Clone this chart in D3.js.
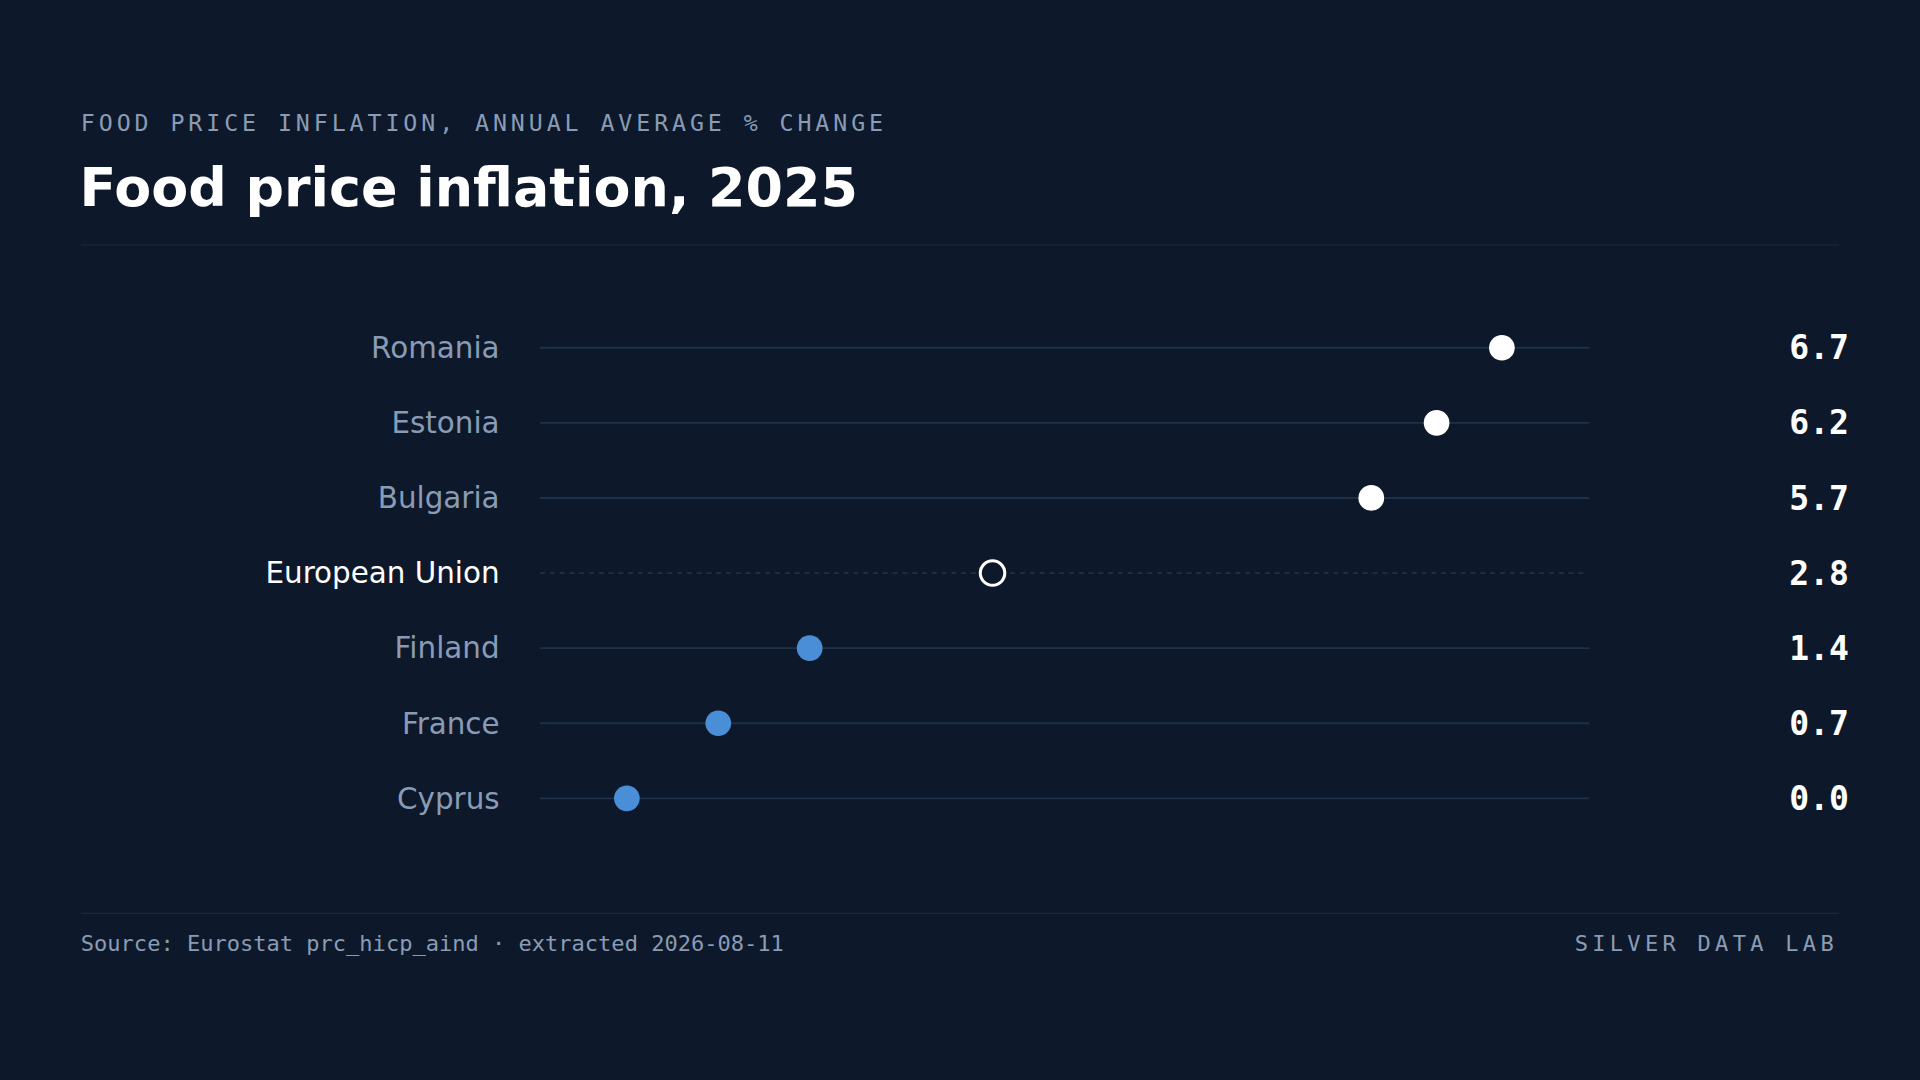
<!DOCTYPE html>
<html>
<head>
<meta charset="utf-8">
<script src="https://cdn.jsdelivr.net/npm/d3@7"></script>
<style>
  html, body { margin: 0; padding: 0; background: #0d192a; }
  svg { display: block; }
</style>
</head>
<body>
<div id="chart"></div>
<script>
const COUNTRIES = ["Romania", "Estonia", "Bulgaria", "European Union", "Finland", "France", "Cyprus"]
const VALUES = [6.7, 6.2, 5.7, 2.8, 1.4, 0.7, 0.0]
const BENCHMARK = "European Union"

const W = 1568, H = 882
const BG = "#0d192a"
const MUTED = "#8a9bb5"
const TRACK = "#1e3149"

const svg = d3.select("#chart")
  .append("svg")
    .attr("width", 1920)
    .attr("height", 1080)
    .attr("viewBox", `0 0 ${W} ${H}`)

svg.append("rect").attr("width", W).attr("height", H).attr("fill", BG)

// ----------------------
// Header
// ----------------------
svg.append("text")
  .attr("x", 66).attr("y", 107)
  .attr("fill", MUTED)
  .style("font", "19px 'DejaVu Sans Mono'")
  .style("letter-spacing", "3.2px")
  .text("FOOD PRICE INFLATION, ANNUAL AVERAGE % CHANGE")

svg.append("text")
  .attr("x", 65).attr("y", 168)
  .attr("fill", "#ffffff")
  .style("font", "bold 44px 'DejaVu Sans'")
  .text("Food price inflation, 2025")

svg.append("line")
  .attr("x1", 66).attr("x2", 1502).attr("y1", 200).attr("y2", 200)
  .attr("stroke", "#18283d")

// ----------------------
// Dot plot
// ----------------------
const x = d3.scaleLinear().domain([-0.665, 7.37]).range([441, 1298])
const y = d3.scalePoint().domain(COUNTRIES).range([284, 652])

const rows = svg.selectAll("g.row")
  .data(COUNTRIES.map((c, i) => ({ country: c, value: VALUES[i] })))
  .enter()
  .append("g")
    .attr("class", "row")
    .attr("transform", d => `translate(0,${y(d.country)})`)

rows.append("line")
  .attr("x1", x.range()[0]).attr("x2", d => d.country === BENCHMARK ? 1294 : x.range()[1])
  .attr("stroke", TRACK)
  .attr("stroke-width", 1.5)
  .attr("stroke-dasharray", d => d.country === BENCHMARK ? "4,4" : null)

rows.append("text")
  .attr("x", 408).attr("dy", "0.35em")
  .attr("text-anchor", "end")
  .attr("fill", d => d.country === BENCHMARK ? "#ffffff" : MUTED)
  .style("font", "24px 'DejaVu Sans'")
  .text(d => d.country)

rows.append("circle")
  .attr("cx", d => x(d.value))
  .attr("r", d => d.country === BENCHMARK ? 10 : 10.5)
  .attr("fill", d => d.country === BENCHMARK ? BG : (d.value >= 5 ? "#ffffff" : "#4a8ed8"))
  .attr("stroke", d => d.country === BENCHMARK ? "#ffffff" : "none")
  .attr("stroke-width", 2.5)

rows.append("text")
  .attr("x", 1510).attr("dy", "0.35em")
  .attr("text-anchor", "end")
  .attr("fill", "#ffffff")
  .style("font", "bold 27px 'DejaVu Sans Mono'")
  .text(d => d3.format(".1f")(d.value))

// ----------------------
// Footer
// ----------------------
svg.append("line")
  .attr("x1", 66).attr("x2", 1502).attr("y1", 746).attr("y2", 746)
  .attr("stroke", "#18283d")

svg.append("text")
  .attr("x", 66).attr("y", 777)
  .attr("fill", MUTED)
  .style("font", "18px 'DejaVu Sans Mono'")
  .text("Source: Eurostat prc_hicp_aind · extracted 2026-08-11")

svg.append("text")
  .attr("x", 1501).attr("y", 777)
  .attr("text-anchor", "end")
  .attr("fill", MUTED)
  .style("font", "18px 'DejaVu Sans Mono'")
  .style("letter-spacing", "3.5px")
  .text("SILVER DATA LAB")
</script>
</body>
</html>
